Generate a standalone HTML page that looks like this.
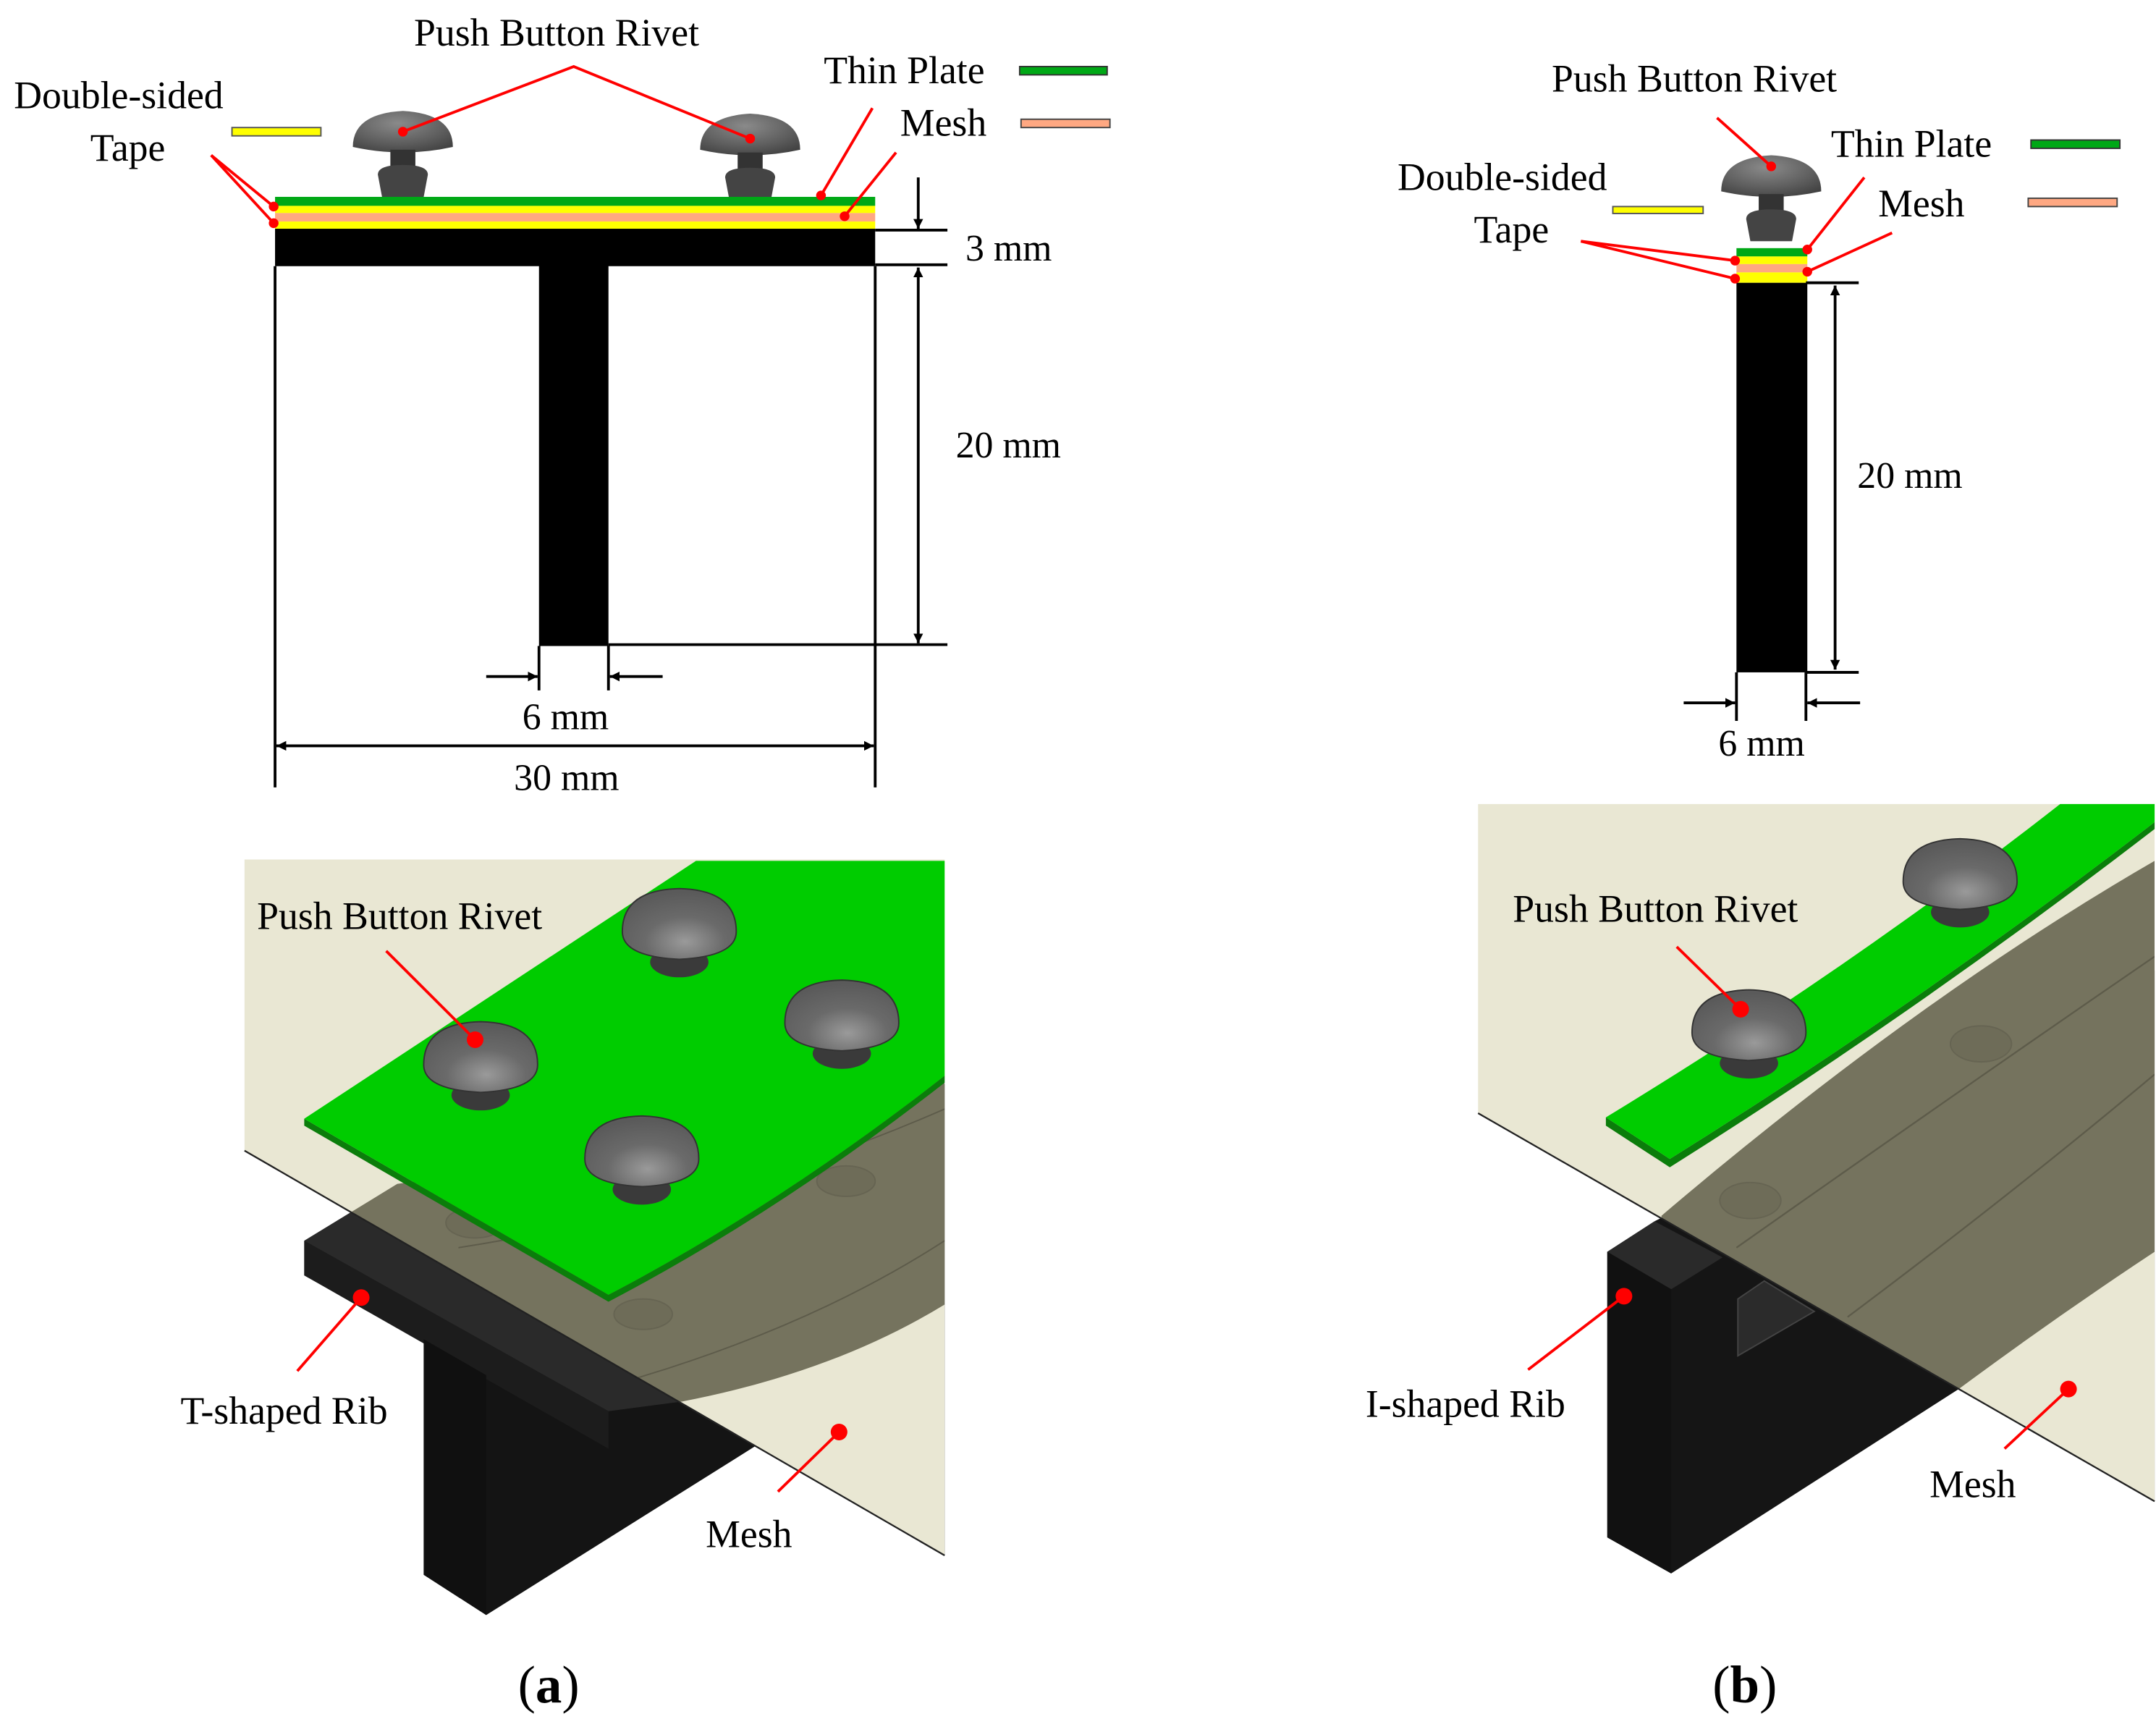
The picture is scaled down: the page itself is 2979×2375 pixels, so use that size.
<!DOCTYPE html>
<html><head><meta charset="utf-8"><style>
html,body{margin:0;padding:0;background:#fff;}
svg{display:block;}
text{font-family:"Liberation Serif",serif;fill:#000;}
</style></head><body>
<svg width="2979" height="2375" viewBox="0 0 1552 1240" preserveAspectRatio="none" xmlns="http://www.w3.org/2000/svg">
<defs>
<marker id="ah" viewBox="0 0 10 10" refX="10" refY="5" markerWidth="7" markerHeight="7" orient="auto-start-reverse" markerUnits="userSpaceOnUse"><path d="M0,0 L10,5 L0,10 Z" fill="#000"/></marker>
<radialGradient id="rg" cx="0.45" cy="0.3" r="0.8"><stop offset="0" stop-color="#8a8a8a"/><stop offset="0.6" stop-color="#5e5e5e"/><stop offset="1" stop-color="#3e3e3e"/></radialGradient>
<radialGradient id="rg2" cx="0.55" cy="0.75" r="0.7"><stop offset="0" stop-color="#9a9a9a"/><stop offset="0.5" stop-color="#6a6a6a"/><stop offset="1" stop-color="#5a5a5a"/></radialGradient>
<clipPath id="meshA"><polygon points="176,620 680,620 680,1122 176,830"/></clipPath>
<clipPath id="meshB"><polygon points="1064,580 1551,580 1551,1083 1064,803"/></clipPath>
<g id="rivS">
<path d="M-36,26 Q-36,2 0,0 Q36,2 36,26 Q0,34 -36,26Z" fill="url(#rg)"/>
<rect x="-9" y="28" width="18" height="18" fill="#333"/>
<path d="M-18,46 Q-18,39 0,39 Q18,39 18,46 L15,62 L-15,62 Z" fill="#444"/>
</g>
<g id="riv3">
<ellipse cx="0" cy="26" rx="21" ry="11" fill="#3a3a3a"/>
<path d="M-41,4 Q-41,-26 0,-27 Q41,-26 41,4 Q41,22 0,24 Q-41,22 -41,4Z" fill="url(#rg2)" stroke="#333" stroke-width="1"/>
</g>
</defs>

<!-- ===== Panel (a) top ===== -->
<g>
<use href="#rivS" x="290" y="80"/>
<use href="#rivS" x="540" y="82"/>
<rect x="198" y="142" width="432" height="6.5" fill="#00a816"/>
<rect x="198" y="148.5" width="432" height="5.2" fill="#ffff00"/>
<rect x="198" y="153.7" width="432" height="6.1" fill="#ffa882"/>
<rect x="198" y="159.8" width="432" height="5.4" fill="#ffff00"/>
<rect x="198" y="165" width="432" height="27" fill="#000"/>
<rect x="388" y="190" width="50" height="276" fill="#000"/>
<g stroke="#000" stroke-width="2" fill="none">
<line x1="198" y1="192" x2="198" y2="568"/>
<line x1="630" y1="192" x2="630" y2="568"/>
<line x1="630" y1="166" x2="682" y2="166"/>
<line x1="630" y1="191" x2="682" y2="191"/>
<line x1="438" y1="465" x2="682" y2="465"/>
<line x1="661" y1="128" x2="661" y2="165" marker-end="url(#ah)"/>
<line x1="661" y1="193" x2="661" y2="464" marker-start="url(#ah)" marker-end="url(#ah)"/>
<line x1="388" y1="466" x2="388" y2="498"/>
<line x1="438" y1="466" x2="438" y2="498"/>
<line x1="350" y1="488" x2="387" y2="488" marker-end="url(#ah)"/>
<line x1="477" y1="488" x2="439" y2="488" marker-end="url(#ah)"/>
<line x1="199" y1="538" x2="629" y2="538" marker-start="url(#ah)" marker-end="url(#ah)"/>
</g>
<text x="695" y="188" font-size="27">3 mm</text>
<text x="688" y="330" font-size="27">20 mm</text>
<text x="376" y="526" font-size="27">6 mm</text>
<text x="370" y="570" font-size="27">30 mm</text>
<text x="298" y="33" font-size="28">Push Button Rivet</text>
<text x="593" y="60" font-size="28">Thin Plate</text>
<text x="648" y="98" font-size="28">Mesh</text>
<text x="10" y="78" font-size="28">Double-sided</text>
<text x="65" y="116" font-size="28">Tape</text>
<rect x="734" y="48" width="63" height="6" fill="#00a816" stroke="#333" stroke-width="1"/>
<rect x="735" y="86" width="64" height="6" fill="#ffa882" stroke="#444" stroke-width="1"/>
<rect x="167" y="92" width="64" height="6" fill="#ffff00" stroke="#555" stroke-width="1"/>
<g stroke="#ff0000" stroke-width="2" fill="none">
<polyline points="290,95 413,48 540,100"/>
<line x1="152" y1="112" x2="197" y2="149"/>
<line x1="152" y1="112" x2="197" y2="161"/>
<line x1="628" y1="78" x2="591" y2="141"/>
<line x1="645" y1="110" x2="608" y2="156"/>
</g>
<g fill="#ff0000"><circle cx="290" cy="95" r="3.5"/><circle cx="540" cy="100" r="3.5"/><circle cx="197" cy="149" r="3.5"/><circle cx="197" cy="161" r="3.5"/><circle cx="591" cy="141" r="3.5"/><circle cx="608" cy="156" r="3.5"/></g>
</g>

<!-- ===== Panel (b) top ===== -->
<g>
<use href="#rivS" x="1275" y="112" transform="translate(0,0)"/>
<rect x="1250" y="179" width="51" height="6" fill="#00a816"/>
<rect x="1250" y="185" width="51" height="5.5" fill="#ffff00"/>
<rect x="1250" y="190.5" width="51" height="6" fill="#ffa882"/>
<rect x="1250" y="196.5" width="51" height="7.5" fill="#ffff00"/>
<rect x="1250" y="204" width="51" height="281" fill="#000"/>
<g stroke="#000" stroke-width="2" fill="none">
<line x1="1300" y1="204" x2="1338" y2="204"/>
<line x1="1300" y1="485" x2="1338" y2="485"/>
<line x1="1321" y1="206" x2="1321" y2="483" marker-start="url(#ah)" marker-end="url(#ah)"/>
<line x1="1250" y1="485" x2="1250" y2="520"/>
<line x1="1300" y1="485" x2="1300" y2="520"/>
<line x1="1212" y1="507" x2="1249" y2="507" marker-end="url(#ah)"/>
<line x1="1339" y1="507" x2="1301" y2="507" marker-end="url(#ah)"/>
</g>
<text x="1337" y="352" font-size="27">20 mm</text>
<text x="1237" y="545" font-size="27">6 mm</text>
<text x="1117" y="66" font-size="28">Push Button Rivet</text>
<text x="1318" y="113" font-size="28">Thin Plate</text>
<text x="1352" y="156" font-size="28">Mesh</text>
<text x="1006" y="137" font-size="28">Double-sided</text>
<text x="1061" y="175" font-size="28">Tape</text>
<rect x="1462" y="101" width="64" height="6" fill="#00a816" stroke="#333" stroke-width="1"/>
<rect x="1460" y="143" width="64" height="6" fill="#ffa882" stroke="#444" stroke-width="1"/>
<rect x="1161" y="149" width="65" height="5" fill="#ffff00" stroke="#555" stroke-width="1"/>
<g stroke="#ff0000" stroke-width="2" fill="none">
<line x1="1236" y1="85" x2="1275" y2="120"/>
<line x1="1138" y1="174" x2="1249" y2="188"/>
<line x1="1138" y1="174" x2="1249" y2="201"/>
<line x1="1342" y1="128" x2="1301" y2="180"/>
<line x1="1362" y1="168" x2="1301" y2="196"/>
</g>
<g fill="#ff0000"><circle cx="1275" cy="120" r="3.5"/><circle cx="1249" cy="188" r="3.5"/><circle cx="1249" cy="201" r="3.5"/><circle cx="1301" cy="180" r="3.5"/><circle cx="1301" cy="196" r="3.5"/></g>
</g>

<!-- ===== Panel (a) bottom 3D ===== -->
<g>
<!-- rib -->
<polygon points="219,895 286,854 680,782 680,1122 544,1043 350,1165 305,1136 305,968 219,920" fill="#141414"/>
<polygon points="219,895 286,854 680,782 680,941 491,1011 438,1018" fill="#2a2a2a"/>
<polygon points="219,895 438,1018 438,1045 219,920" fill="#1c1c1c"/>
<polygon points="305,966 350,992 350,1165 305,1136" fill="#101010"/>
<!-- mesh -->
<polygon points="176,620 680,620 680,1122 176,830" fill="#e9e7d3"/>
<g clip-path="url(#meshA)">
<path d="M219,895 L286,854 Q480,830 680,760 L680,941 Q600,990 491,1011 L438,1018 Z" fill="#75735e"/>
<path d="M330,900 Q520,870 680,800" stroke="#5d5b4a" stroke-width="1" fill="none"/>
<path d="M438,1000 Q580,960 680,895" stroke="#5d5b4a" stroke-width="1" fill="none"/>
<ellipse cx="463" cy="948" rx="21" ry="11" fill="#6e6c58" stroke="#666452"/>
<ellipse cx="609" cy="852" rx="21" ry="11" fill="#6e6c58" stroke="#666452"/>
<ellipse cx="342" cy="882" rx="21" ry="11" fill="#6e6c58" stroke="#666452"/>
</g>
<line x1="176" y1="830" x2="680" y2="1122" stroke="#222" stroke-width="1.2"/>
<!-- plate -->
<path d="M219,812 L438,939 Q560,875 680,781 L680,776 Q560,870 438,934 L219,807Z" fill="#0b7d0b"/>
<path d="M219,807 L501,621 L680,621 L680,776 Q560,870 438,934 Z" fill="#00cc00"/>
<use href="#riv3" x="489" y="668"/>
<use href="#riv3" x="606" y="734"/>
<use href="#riv3" x="346" y="764"/>
<use href="#riv3" x="462" y="832"/>
<g stroke="#ff0000" stroke-width="2"><line x1="278" y1="686" x2="342" y2="750"/><line x1="214" y1="989" x2="260" y2="936"/><line x1="560" y1="1076" x2="604" y2="1033"/></g>
<g fill="#ff0000"><circle cx="342" cy="750" r="6"/><circle cx="260" cy="936" r="6"/><circle cx="604" cy="1033" r="6"/></g>
<text x="185" y="670" font-size="28">Push Button Rivet</text>
<text x="130" y="1027" font-size="28">T-shaped Rib</text>
<text x="508" y="1116" font-size="28">Mesh</text>
</g>

<!-- ===== Panel (b) bottom 3D ===== -->
<g>
<polygon points="1157,903 1191,881 1551,700 1551,1083 1410,1002 1203,1135 1157,1109" fill="#151515"/>
<polygon points="1157,903 1191,881 1240,907 1203,930" fill="#2a2a2a"/>
<polygon points="1157,903 1203,930 1203,1135 1157,1109" fill="#111"/>
<polygon points="1251,937 1270,924 1306,946 1251,978" fill="#2b2b2b" stroke="#444" stroke-width="1"/>
<polygon points="1064,580 1551,580 1551,1083 1064,803" fill="#e9e7d3"/>
<g clip-path="url(#meshB)">
<path d="M1196,877 Q1380,720 1551,621 L1551,903 Q1480,950 1410,1002 L1196,880Z" fill="#75735e"/>
<path d="M1250,900 Q1420,780 1551,690" stroke="#5d5b4a" stroke-width="1.2" fill="none"/>
<path d="M1330,950 Q1450,860 1551,775" stroke="#5d5b4a" stroke-width="1.2" fill="none"/>
<ellipse cx="1260" cy="866" rx="22" ry="13" fill="#6e6c58" stroke="#666452"/>
<ellipse cx="1426" cy="753" rx="22" ry="13" fill="#6e6c58" stroke="#666452"/>
</g>
<line x1="1064" y1="803" x2="1551" y2="1083" stroke="#222" stroke-width="1.2"/>
<path d="M1156,806 L1156,812 L1202,842 Q1380,730 1551,598 L1551,593 Q1380,725 1202,836Z" fill="#0b7d0b"/>
<path d="M1156,806 Q1330,700 1483,580 L1551,580 L1551,593 Q1380,725 1202,836 Z" fill="#00cc00"/>
<use href="#riv3" x="1259" y="741"/>
<use href="#riv3" x="1411" y="632"/>
<g stroke="#ff0000" stroke-width="2"><line x1="1207" y1="683" x2="1253" y2="728"/><line x1="1100" y1="988" x2="1169" y2="935"/><line x1="1443" y1="1045" x2="1489" y2="1002"/></g>
<g fill="#ff0000"><circle cx="1253" cy="728" r="6"/><circle cx="1169" cy="935" r="6"/><circle cx="1489" cy="1002" r="6"/></g>
<text x="1089" y="665" font-size="28">Push Button Rivet</text>
<text x="983" y="1022" font-size="28">I-shaped Rib</text>
<text x="1389" y="1080" font-size="28">Mesh</text>
</g>

<text x="395" y="1228" font-size="38" text-anchor="middle">(<tspan font-weight="bold">a</tspan>)</text>
<text x="1256" y="1228" font-size="38" text-anchor="middle">(<tspan font-weight="bold">b</tspan>)</text>
</svg>
</body></html>
